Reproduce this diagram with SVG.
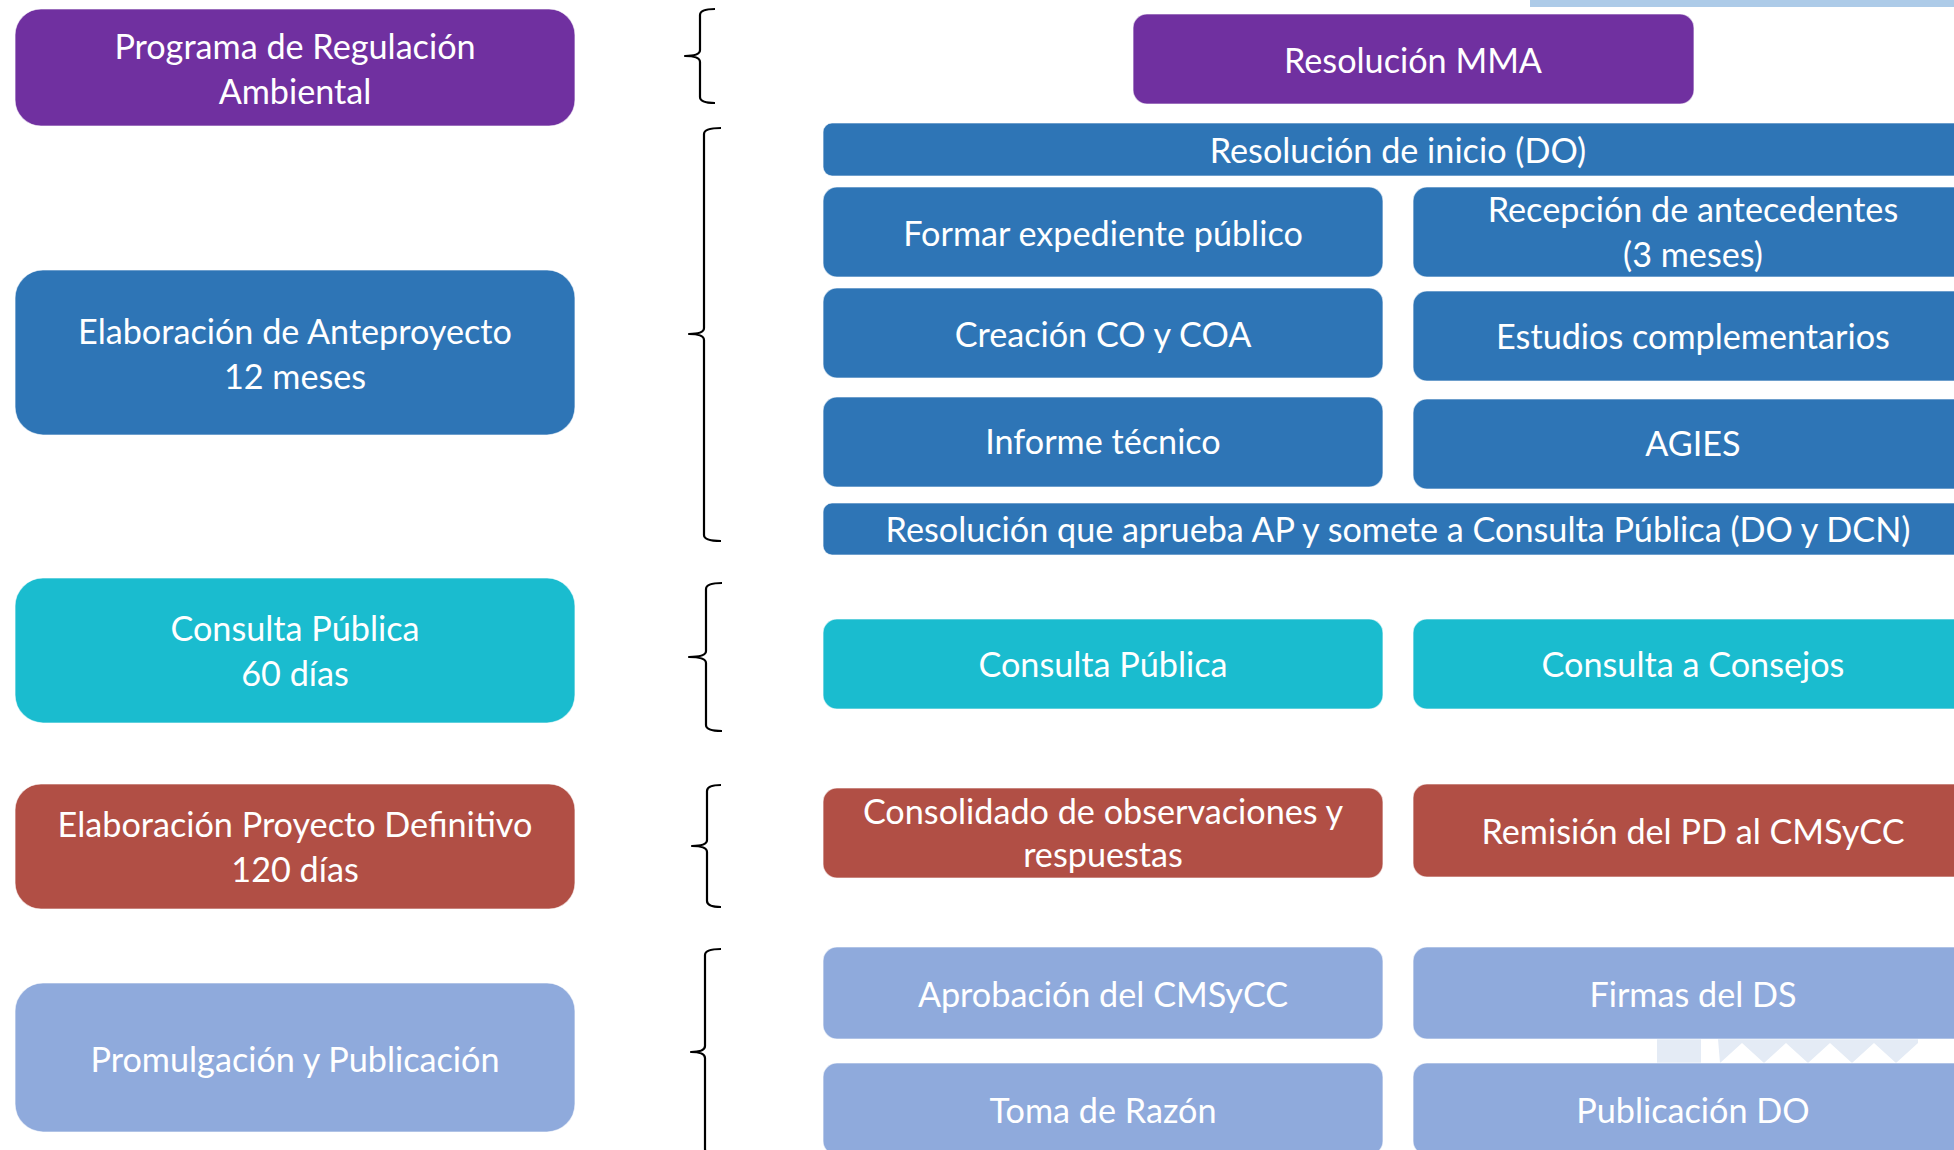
<svg xmlns="http://www.w3.org/2000/svg" width="1954" height="1150" viewBox="0 0 1954 1150">
<style>
text{font-family:Lato,"Open Sans","Liberation Sans",sans-serif;font-size:34.2px;fill:#fff;text-anchor:middle}
.box{stroke:#fff;stroke-opacity:.6;stroke-width:1.2}
.p{fill:#7030a0}.b{fill:#2e75b6}.c{fill:#1abccf}.r{fill:#b14f45}.l{fill:#8faadc}
.brace{fill:none;stroke:#000;stroke-width:2.2;stroke-linejoin:round}
</style>
<rect x="1530" y="0" width="424" height="7" fill="#adcbe8"/>
<g id="watermark" fill="#e4ebf5">
<rect x="1657" y="1039" width="44" height="24"/>
<polygon points="1718,1039 1918,1039 1918,1043 1896,1063 1874,1043 1852,1063 1830,1043 1808,1063 1786,1043 1764,1063 1742,1043 1720,1063"/>
</g>
<g id="n-programa"><rect class="box p" x="15" y="9" width="560" height="117" rx="26"/><text x="295" y="59">Programa de Regulación</text><text x="295" y="104">Ambiental</text></g>
<g id="n-anteproyecto"><rect class="box b" x="15" y="270" width="560" height="165" rx="28"/><text x="295" y="344">Elaboración de Anteproyecto</text><text x="295" y="389">12 meses</text></g>
<g id="n-consulta"><rect class="box c" x="15" y="578" width="560" height="145" rx="28"/><text x="295" y="641">Consulta Pública</text><text x="295" y="686">60 días</text></g>
<g id="n-definitivo"><rect class="box r" x="15" y="784" width="560" height="125" rx="26"/><text x="295" y="837">Elaboración Proyecto Definitivo</text><text x="295" y="882">120 días</text></g>
<g id="n-promulgacion"><rect class="box l" x="15" y="983" width="560" height="149" rx="28"/><text x="295" y="1072">Promulgación y Publicación</text></g>

<g id="n-mma"><rect class="box p" x="1133" y="14" width="561" height="90" rx="14"/><text x="1413" y="73">Resolución MMA</text></g>
<g id="n-inicio"><rect class="box b" x="823" y="123" width="1150" height="53" rx="9"/><text x="1398" y="163">Resolución de inicio (DO)</text></g>
<g id="n-expediente"><rect class="box b" x="823" y="187" width="560" height="90" rx="14"/><text x="1103" y="246">Formar expediente público</text></g>
<g id="n-recepcion"><rect class="box b" x="1413" y="187" width="560" height="90" rx="14"/><text x="1693" y="222">Recepción de antecedentes</text><text x="1693" y="267">(3 meses)</text></g>
<g id="n-creacion"><rect class="box b" x="823" y="288" width="560" height="90" rx="14"/><text x="1103" y="347">Creación CO y COA</text></g>
<g id="n-estudios"><rect class="box b" x="1413" y="291" width="560" height="90" rx="14"/><text x="1693" y="349">Estudios complementarios</text></g>
<g id="n-informe"><rect class="box b" x="823" y="397" width="560" height="90" rx="14"/><text x="1103" y="454">Informe técnico</text></g>
<g id="n-agies"><rect class="box b" x="1413" y="399" width="560" height="90" rx="14"/><text x="1693" y="456">AGIES</text></g>
<g id="n-aprueba"><rect class="box b" x="823" y="503" width="1150" height="52" rx="9"/><text x="1398" y="542">Resolución que aprueba AP y somete a Consulta Pública (DO y DCN)</text></g>
<g id="n-cp"><rect class="box c" x="823" y="619" width="560" height="90" rx="14"/><text x="1103" y="677">Consulta Pública</text></g>
<g id="n-consejos"><rect class="box c" x="1413" y="619" width="560" height="90" rx="14"/><text x="1693" y="677">Consulta a Consejos</text></g>
<g id="n-consolidado"><rect class="box r" x="823" y="788" width="560" height="90" rx="14"/><text x="1103" y="824">Consolidado de observaciones y</text><text x="1103" y="867">respuestas</text></g>
<g id="n-remision"><rect class="box r" x="1413" y="784" width="560" height="93" rx="14"/><text x="1693" y="844">Remisión del PD al CMSyCC</text></g>
<g id="n-aprobacion"><rect class="box l" x="823" y="947" width="560" height="92" rx="14"/><text x="1103" y="1007">Aprobación del CMSyCC</text></g>
<g id="n-firmas"><rect class="box l" x="1413" y="947" width="560" height="92" rx="14"/><text x="1693" y="1007">Firmas del DS</text></g>
<g id="n-toma"><rect class="box l" x="823" y="1063" width="560" height="92" rx="14"/><text x="1103" y="1123">Toma de Razón</text></g>
<g id="n-publicacion"><rect class="box l" x="1413" y="1063" width="560" height="92" rx="14"/><text x="1693" y="1123">Publicación DO</text></g>

<g id="connectors" class="brace">
<path d="M715,9 Q700,9 700,15 L700,50 Q700,56 685,56 Q700,56 700,62 L700,97 Q700,103 715,103"/>
<path d="M721,128 Q704,128 704,134 L704,328 Q704,334 689,334 Q704,334 704,340 L704,535 Q704,541 721,541"/>
<path d="M722,583 Q706,583 706,589 L706,651 Q706,657 689,657 Q706,657 706,663 L706,725 Q706,731 722,731"/>
<path d="M721,785 Q707,785 707,791 L707,840 Q707,846 692,846 Q707,846 707,852 L707,901 Q707,907 721,907"/>
<path d="M721,949 Q705,949 705,955 L705,1046 Q705,1052 691,1052 Q705,1052 705,1058 L705,1149 Q705,1155 721,1155"/>
</g>
</svg>
